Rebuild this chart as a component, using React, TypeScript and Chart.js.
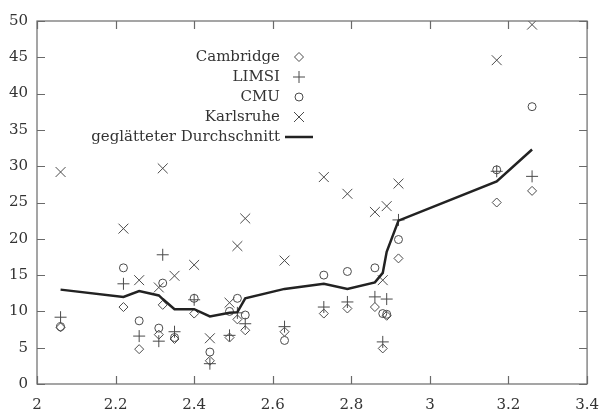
import React, { useEffect, useRef } from "react";
import { Chart, registerables } from "chart.js";

Chart.register(...registerables);

// Evaluation positions (x) shared by all systems
const positions = [2.06, 2.22, 2.26, 2.31, 2.32, 2.35, 2.4, 2.44, 2.49, 2.51, 2.53, 2.63, 2.73, 2.79, 2.86, 2.88, 2.89, 2.92, 3.17, 3.26];

// Per-system values
const cambridge = [7.8, 10.6, 4.8, 6.8, 10.9, 6.2, 9.7, 3.2, 6.4, 8.9, 7.4, 7.2, 9.7, 10.4, 10.6, 4.9, 9.4, 17.3, 25.0, 26.6];
const limsi = [9.2, 13.8, 6.6, 5.9, 17.8, 7.2, 11.6, 2.8, 6.7, 9.8, 8.3, 7.9, 10.6, 11.3, 12.0, 5.8, 11.7, 22.6, 29.3, 28.6];
const cmu = [7.9, 16.0, 8.7, 7.7, 13.9, 6.4, 11.8, 4.4, 10.0, 11.8, 9.5, 6.0, 15.0, 15.5, 16.0, 9.7, 9.6, 19.9, 29.5, 38.2];
const karlsruhe = [29.2, 21.4, 14.3, 13.3, 29.7, 14.9, 16.4, 6.3, 11.2, 19.0, 22.8, 17.0, 28.5, 26.2, 23.7, 14.3, 24.5, 27.6, 44.6, 49.5];
const smoothed = [13.0, 12.0, 12.8, 12.2, 11.7, 10.3, 10.3, 9.3, 9.8, 9.9, 11.8, 13.1, 13.8, 13.1, 14.0, 15.3, 18.2, 22.5, 27.9, 32.3];

const legendLabels = ["Cambridge", "LIMSI", "CMU", "Karlsruhe", "geglätteter Durchschnitt"];

const xMin = 2;
const xMax = 3.4;
const xStep = 0.2;
const yMin = 0;
const yMax = 50;
const yStep = 5;

const FONT = "'DejaVu Serif', 'Liberation Serif', serif";
const MARK = "#4a4a4a";
const TEXT = "#333333";
const FRAME = "#6a6a6a";

const toPoints = (ys: number[]) => positions.map((x, i) => ({ x, y: ys[i] }));

function drawSymbol(ctx: CanvasRenderingContext2D, kind: string, x: number, y: number) {
  ctx.save();
  ctx.strokeStyle = MARK;
  ctx.lineWidth = 1;
  ctx.beginPath();
  if (kind === "diamond") {
    const r = 4.5;
    ctx.moveTo(x - r, y);
    ctx.lineTo(x, y - r);
    ctx.lineTo(x + r, y);
    ctx.lineTo(x, y + r);
    ctx.closePath();
  } else if (kind === "plus") {
    const r = 6;
    ctx.moveTo(x - r, y);
    ctx.lineTo(x + r, y);
    ctx.moveTo(x, y - r);
    ctx.lineTo(x, y + r);
  } else if (kind === "circle") {
    ctx.arc(x, y, 4, 0, Math.PI * 2);
  } else if (kind === "cross") {
    const r = 5;
    ctx.moveTo(x - r, y - r);
    ctx.lineTo(x + r, y + r);
    ctx.moveTo(x + r, y - r);
    ctx.lineTo(x - r, y + r);
  } else {
    ctx.strokeStyle = "#222";
    ctx.lineWidth = 2.5;
    ctx.moveTo(x - 14, y);
    ctx.lineTo(x + 14, y);
  }
  ctx.stroke();
  ctx.restore();
}

// Frame around the plot with inward ticks on all four sides, plus the key
const framePlugin = {
  id: "frameAndKey",
  afterDatasetsDraw(chart: any) {
    const { ctx, chartArea } = chart;
    const { left, right, top, bottom } = chartArea;
    const xs = chart.scales.x;
    const ys = chart.scales.y;
    const tick = 8;
    ctx.save();
    ctx.strokeStyle = FRAME;
    ctx.lineWidth = 1.2;
    ctx.strokeRect(left, top, right - left, bottom - top);
    ctx.beginPath();
    xs.ticks.forEach((t: any) => {
      const px = Math.round(xs.getPixelForValue(t.value)) + 0.5;
      ctx.moveTo(px, bottom);
      ctx.lineTo(px, bottom - tick);
      ctx.moveTo(px, top);
      ctx.lineTo(px, top + tick);
    });
    ys.ticks.forEach((t: any) => {
      const py = Math.round(ys.getPixelForValue(t.value)) + 0.5;
      ctx.moveTo(left, py);
      ctx.lineTo(left + tick, py);
      ctx.moveTo(right, py);
      ctx.lineTo(right - tick, py);
    });
    ctx.stroke();

    // Key: right-aligned labels followed by their symbols
    const kinds = ["diamond", "plus", "circle", "cross", "line"];
    const textRight = left + 243;
    const symX = left + 262;
    const rowTop = top + 36;
    const rowGap = 20;
    ctx.font = `15px ${FONT}`;
    ctx.fillStyle = TEXT;
    ctx.textAlign = "right";
    ctx.textBaseline = "middle";
    legendLabels.forEach((label, i) => {
      const y = rowTop + i * rowGap;
      ctx.fillText(label, textRight, y);
      drawSymbol(ctx, kinds[i], symX, y);
    });
    ctx.restore();
  },
};

export default function App() {
  const canvasRef = useRef<HTMLCanvasElement | null>(null);

  useEffect(() => {
    if (!canvasRef.current) return;
    const pointBase = {
      type: "scatter" as const,
      showLine: false,
      borderColor: MARK,
      backgroundColor: "rgba(0,0,0,0)",
      borderWidth: 1,
      pointBorderWidth: 1,
    };
    const chart = new Chart(canvasRef.current, {
      type: "scatter",
      data: {
        datasets: [
          {
            ...pointBase,
            label: legendLabels[4],
            type: "line" as any,
            data: toPoints(smoothed),
            showLine: true,
            borderColor: "#222222",
            borderWidth: 2.5,
            pointRadius: 0,
            tension: 0,
            order: 0,
          } as any,
          { ...pointBase, label: legendLabels[0], data: toPoints(cambridge), pointStyle: "rectRot", pointRadius: 4.5, order: 1 },
          { ...pointBase, label: legendLabels[1], data: toPoints(limsi), pointStyle: "cross", pointRadius: 6, order: 2 },
          { ...pointBase, label: legendLabels[2], data: toPoints(cmu), pointStyle: "circle", pointRadius: 4, order: 3 },
          { ...pointBase, label: legendLabels[3], data: toPoints(karlsruhe), pointStyle: "crossRot", pointRadius: 7, order: 4 },
        ],
      },
      options: {
        animation: false,
        responsive: true,
        maintainAspectRatio: false,
        layout: { padding: { top: 21, right: 11, left: 0, bottom: 0 } },
        plugins: {
          legend: { display: false },
          tooltip: { enabled: false },
        },
        scales: {
          x: {
            type: "linear",
            min: xMin,
            max: xMax,
            grid: { display: false, drawTicks: false },
            border: { display: false },
            afterFit: (s: any) => {
              s.height = 29;
            },
            ticks: {
              stepSize: xStep,
              padding: 12,
              color: TEXT,
              font: { family: FONT, size: 15 },
              maxRotation: 0,
              callback: (v: any) => String(Number(Number(v).toFixed(1))),
            },
          },
          y: {
            type: "linear",
            min: yMin,
            max: yMax,
            grid: { display: false, drawTicks: false },
            border: { display: false },
            afterFit: (s: any) => {
              s.width = 37;
            },
            ticks: {
              stepSize: yStep,
              padding: 9,
              color: TEXT,
              font: { family: FONT, size: 15 },
            },
          },
        },
      },
      plugins: [framePlugin],
    });
    return () => chart.destroy();
  }, []);

  return (
    <div style={{ position: "fixed", left: 0, top: 0, width: 611, height: 413, background: "#fff" }}>
      <canvas ref={canvasRef} />
    </div>
  );
}
